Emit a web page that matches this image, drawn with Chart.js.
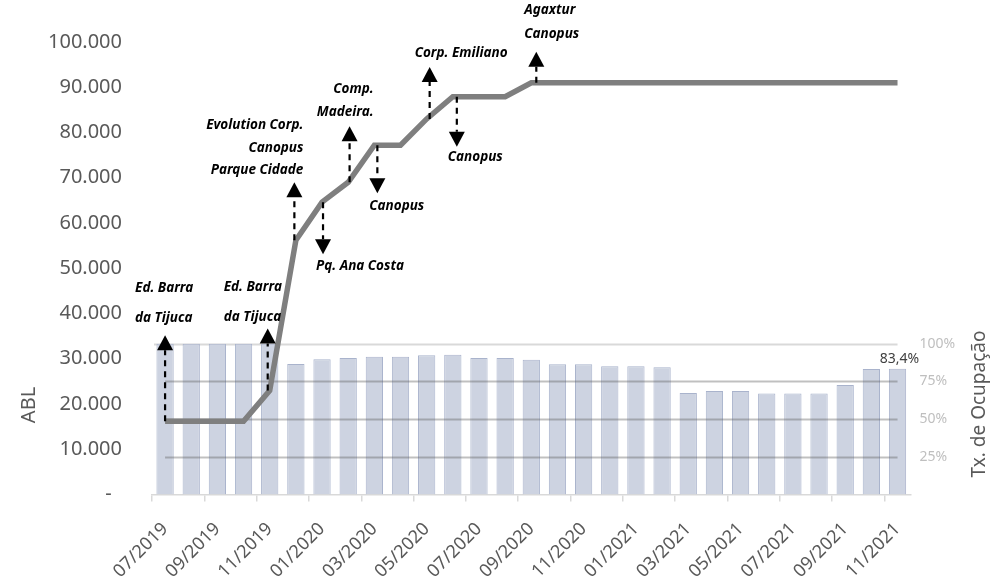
<!DOCTYPE html>
<html>
<head>
<meta charset="utf-8">
<script src="https://cdn.jsdelivr.net/npm/chart.js@4.4.0/dist/chart.umd.min.js"></script>
<style>
  html, body { margin: 0; padding: 0; background: #fff; }
</style>
</head>
<body>
<canvas id="ablChart" width="992" height="583"></canvas>
<script>
const months = [
  "07/2019", "08/2019", "09/2019", "10/2019", "11/2019", "12/2019",
  "01/2020", "02/2020", "03/2020", "04/2020", "05/2020", "06/2020",
  "07/2020", "08/2020", "09/2020", "10/2020", "11/2020", "12/2020",
  "01/2021", "02/2021", "03/2021", "04/2021", "05/2021", "06/2021",
  "07/2021", "08/2021", "09/2021", "10/2021", "11/2021"
];
// ABL (m²)
const abl = [
  16200, 16200, 16200, 16200, 23000, 56200,
  64600, 69000, 77200, 77200, 83000, 87900,
  87900, 87900, 91000, 91000, 91000, 91000,
  91000, 91000, 91000, 91000, 91000, 91000,
  91000, 91000, 91000, 91000, 91000
];
// Tx. de Ocupação (%)
const occupancy = [
  100, 100, 100, 100, 100, 86.5,
  89.6, 90.5, 91.4, 91.4, 92.3, 92.7,
  90.5, 90.5, 89.4, 86.3, 86.3, 85.0,
  85.0, 84.3, 67.3, 68.7, 68.7, 66.9,
  66.9, 66.9, 72.6, 83.2, 83.4
];
const ablTicks = [0, 10000, 20000, 30000, 40000, 50000, 60000, 70000, 80000, 90000, 100000];
const occTicks = [25, 50, 75, 100];

// acquisitions (up) and sales (down) marked on the ABL line
const eventIdx = [0, 4, 5, 6, 7, 8, 10, 11, 14];
const eventDir = ["up", "up", "up", "down", "up", "down", "up", "down", "up"];
const eventText = [
  ["Ed. Barra", "da Tijuca"],
  ["Ed. Barra", "da Tijuca"],
  ["Evolution Corp.", "Canopus", "Parque Cidade"],
  ["Pq. Ana Costa"],
  ["Comp.", "Madeira."],
  ["Canopus"],
  ["Corp. Emiliano"],
  ["Canopus"],
  ["Agaxtur", "Canopus"]
];

// where each arrow and its text sit, in px
const eventLayout = [
  { dx: 0, len: 86, tx: -30, ty: -47, align: "left", gap: 30 },
  { dx: -2, len: 62, tx: -44, ty: -41, align: "left", gap: 30 },
  { dx: -1.5, len: 58, tx: 9, ty: -56.7, align: "right", gap: 22.5 },
  { dx: 1, len: 52, tx: -7, ty: 12, align: "left", gap: 0 },
  { dx: 1.4, len: 56, tx: 24, ty: -36.7, align: "right", gap: 22.4 },
  { dx: 3, len: 48, tx: -8, ty: 13, align: "left", gap: 0 },
  { dx: 3, len: 52, tx: -15, ty: -13.3, align: "left", gap: 0 },
  { dx: 4, len: 50, tx: -9, ty: 10, align: "left", gap: 0 },
  { dx: 5, len: 31, tx: -12, ty: -41.7, align: "left", gap: 24 }
];

const FONT = "'Noto Sans', sans-serif";
const TEXT_GREY = "#595959";

const fmtThousands = (v) => String(v).replace(/\B(?=(\d{3})+(?!\d))/g, ".");

// occupancy grid: 100% line behind the bars, the others over them
const occGrid = {
  id: "occGrid",
  beforeDatasetsDraw(chart) {
    const { ctx, scales } = chart;
    const y = Math.round(scales.y2.getPixelForValue(100)) + 0.5;
    ctx.save();
    ctx.strokeStyle = "#d9d9d9";
    ctx.lineWidth = 2;
    ctx.beginPath();
    ctx.moveTo(chart.chartArea.left + 2, y);
    ctx.lineTo(scales.x.getPixelForValue(months.length - 1), y);
    ctx.stroke();
    ctx.restore();
  },
  afterDatasetDraw(chart, args) {
    if (args.index !== 0) return;
    const { ctx, scales } = chart;
    const x0 = scales.x.getPixelForValue(0);
    const x1 = scales.x.getPixelForValue(months.length - 1);
    ctx.save();
    ctx.strokeStyle = "rgba(90, 90, 90, 0.38)";
    ctx.lineWidth = 2;
    occTicks.filter((t) => t < 100).forEach((t) => {
      const y = Math.round(scales.y2.getPixelForValue(t)) + 0.5;
      ctx.beginPath();
      ctx.moveTo(x0, y);
      ctx.lineTo(x1, y);
      ctx.stroke();
    });
    ctx.restore();
  }
};

const eventArrows = {
  id: "eventArrows",
  afterDatasetsDraw(chart) {
    const { ctx, scales } = chart;
    ctx.save();
    eventIdx.forEach((idx, k) => {
      const lay = eventLayout[k];
      const up = eventDir[k] === "up";
      const x = scales.x.getPixelForValue(idx) + lay.dx;
      const y0 = scales.y.getPixelForValue(abl[idx]);
      const tipY = up ? y0 - lay.len : y0 + lay.len;
      const baseY = up ? tipY + 15 : tipY - 15;

      ctx.strokeStyle = "#000";
      ctx.lineWidth = 2.2;
      ctx.setLineDash([6, 5]);
      ctx.beginPath();
      ctx.moveTo(x, y0);
      ctx.lineTo(x, baseY);
      ctx.stroke();
      ctx.setLineDash([]);

      ctx.fillStyle = "#000";
      ctx.beginPath();
      ctx.moveTo(x, tipY);
      ctx.lineTo(x - 8, baseY);
      ctx.lineTo(x + 8, baseY);
      ctx.closePath();
      ctx.fill();

      ctx.font = "italic bold 13.5px " + FONT;
      ctx.textAlign = lay.align;
      ctx.textBaseline = "middle";
      eventText[k].forEach((line, j) => {
        ctx.fillText(line, x + lay.tx, tipY + lay.ty + j * lay.gap);
      });
    });
    ctx.restore();
  }
};

const extraText = {
  id: "extraText",
  afterDraw(chart) {
    const { ctx, scales } = chart;
    ctx.save();
    // value of the last month above its bar
    const last = occupancy.length - 1;
    ctx.font = "14px " + FONT;
    ctx.fillStyle = "#404040";
    ctx.textAlign = "center";
    ctx.textBaseline = "bottom";
    ctx.fillText(
      occupancy[last].toFixed(1).replace(".", ",") + "%",
      scales.x.getPixelForValue(last) + 2,
      scales.y2.getPixelForValue(occupancy[last]) - 3
    );

    // axis titles
    ctx.fillStyle = TEXT_GREY;
    ctx.textBaseline = "middle";
    ctx.font = "20px " + FONT;
    ctx.translate(29, 405);
    ctx.rotate(-Math.PI / 2);
    ctx.fillText("ABL", 0, 0);
    ctx.restore();

    ctx.save();
    ctx.fillStyle = TEXT_GREY;
    ctx.textAlign = "center";
    ctx.textBaseline = "middle";
    ctx.font = "19px " + FONT;
    ctx.translate(980, 404);
    ctx.rotate(-Math.PI / 2);
    ctx.fillText("Tx. de Ocupação", 0, 0);
    ctx.restore();
  }
};

const ablChart = new Chart(document.querySelector("#ablChart"), {
  type: "bar",
  data: {
    labels: months,
    datasets: [
      {
        type: "bar",
        label: "Tx. de Ocupação",
        data: occupancy,
        yAxisID: "y2",
        backgroundColor: "#cdd3e1",
        borderColor: "#a9b3cc",
        borderWidth: 1,
        barPercentage: 0.66,
        categoryPercentage: 1,
        order: 1
      },
      {
        type: "line",
        label: "ABL",
        data: abl,
        yAxisID: "y",
        borderColor: "#7f7f7f",
        borderWidth: 5.5,
        pointRadius: 0,
        tension: 0,
        order: 0
      }
    ]
  },
  options: {
    responsive: false,
    animation: false,
    layout: { padding: { top: 39, left: 0, right: 0, bottom: 0 } },
    plugins: {
      legend: { display: false },
      tooltip: { enabled: false }
    },
    scales: {
      x: {
        offset: true,
        afterFit: (s) => { s.height = 88.5; },
        grid: {
          display: true,
          offset: true,
          drawOnChartArea: false,
          tickLength: 7,
          lineWidth: 1.5,
          tickColor: (c) => (c.index !== undefined && c.index % 2 === 0 ? "#d9d9d9" : "rgba(0,0,0,0)")
        },
        border: { display: true, color: "#d9d9d9", width: 1.5 },
        ticks: {
          autoSkip: false,
          maxRotation: 45,
          minRotation: 45,
          padding: 17,
          color: TEXT_GREY,
          font: { family: FONT, size: 18 },
          callback: (v, i) => (i % 2 === 0 ? months[i] : "")
        }
      },
      y: {
        position: "left",
        min: 0,
        max: 100000,
        afterFit: (s) => { s.width = 152; },
        afterBuildTicks: (s) => { s.ticks = ablTicks.map((v) => ({ value: v })); },
        grid: { display: false, drawTicks: false },
        border: { display: false },
        ticks: {
          padding: 30,
          color: TEXT_GREY,
          font: { family: FONT, size: 20 },
          callback: (v) => (v === 0 ? "-  " : fmtThousands(v))
        }
      },
      y2: {
        position: "right",
        min: 0,
        max: 300,
        afterFit: (s) => { s.width = 81.4; },
        afterBuildTicks: (s) => { s.ticks = occTicks.map((v) => ({ value: v })); },
        grid: { display: false, drawTicks: false },
        border: { display: false },
        ticks: {
          padding: 9,
          color: "#bfbfbf",
          font: { family: FONT, size: 14 },
          callback: (v) => v + "%"
        }
      }
    }
  },
  plugins: [occGrid, eventArrows, extraText]
});
</script>
</body>
</html>
